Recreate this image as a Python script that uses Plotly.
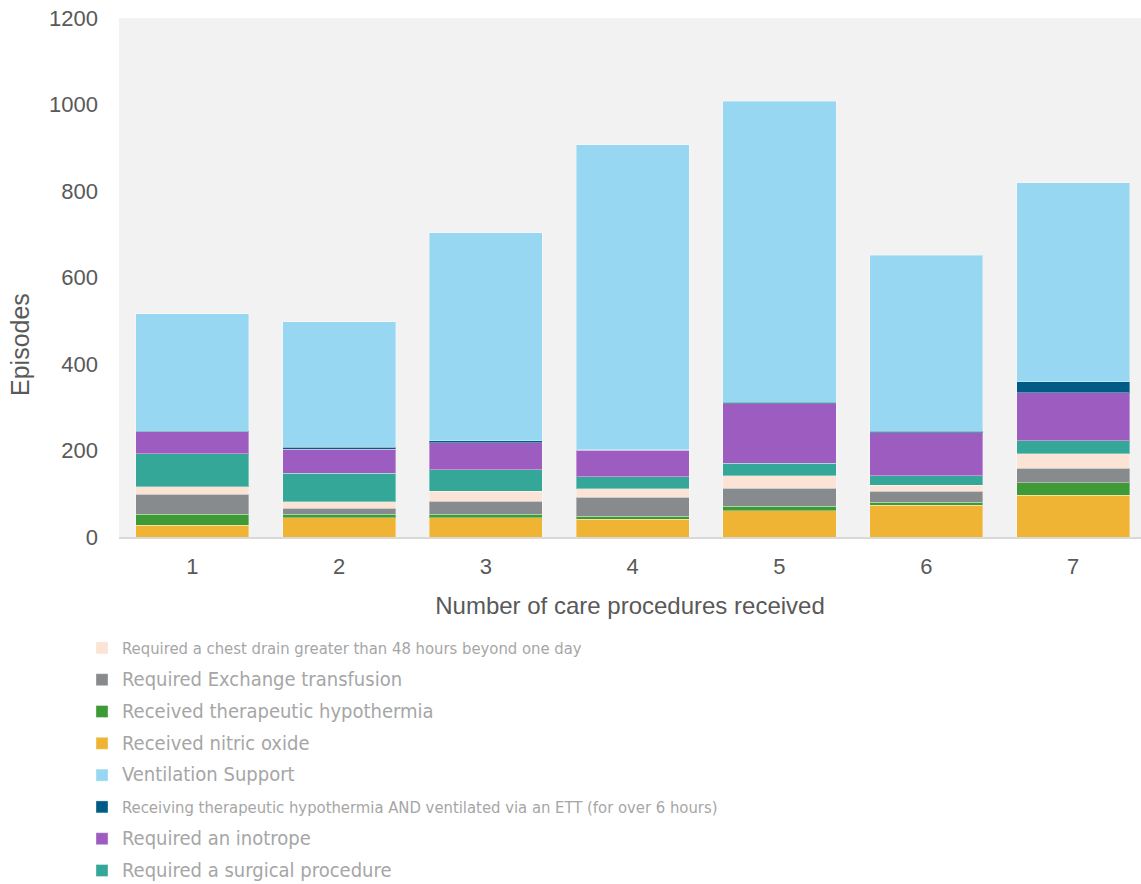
import plotly.graph_objects as go

categories = ["1", "2", "3", "4", "5", "6", "7"]

nitric_oxide = [27, 44, 44, 41, 61, 74, 96]
hypothermia = [26, 9, 9, 7, 10, 6, 29]
exchange = [46, 14, 30, 44, 42, 26, 34]
chest_drain = [17, 14, 23, 19, 29, 14, 34]
surgical = [77, 66, 49, 28, 28, 22, 30]
inotrope = [50, 56, 63, 62, 138, 99, 111]
hypo_vent = [1, 5, 4, 1, 4, 4, 25]
ventilation = [272, 290, 482, 705, 696, 406, 460]

# stack order bottom -> top: (name, values, colour, legend rank, legend text size)
series = [
    ("Received nitric oxide", nitric_oxide, "#F0B434", 4, 20),
    ("Received therapeutic hypothermia", hypothermia, "#3D9A35", 3, 20),
    ("Required Exchange transfusion", exchange, "#888B8D", 2, 20),
    ("Required a chest drain greater than 48 hours beyond one day", chest_drain, "#FBE3D6", 1, 16.5),
    ("Required a surgical procedure", surgical, "#34A798", 8, 20),
    ("Required an inotrope", inotrope, "#9D5CC0", 7, 20),
    ("Receiving therapeutic hypothermia AND ventilated via an ETT (for over 6 hours)", hypo_vent, "#005C84", 6, 16.5),
    ("Ventilation Support", ventilation, "#98D7F1", 5, 20),
]

fig = go.Figure()
for name, vals, color, rank, fs in series:
    fig.add_trace(go.Bar(
        x=[int(c) for c in categories], y=vals,
        name="<span style='font-size:%spx'>%s</span>" % (fs, name),
        marker=dict(color=color, line=dict(color="rgba(255,255,255,0.35)", width=1)),
        legendrank=rank, legendgroup="g%d" % rank,
    ))

W, H = 1141, 884
L, R, T, B = 119, 0, 18, 347
plot_w = W - L - R
plot_h = H - T - B

fig.update_layout(
    width=W, height=H,
    barmode="stack", bargap=0.23,
    paper_bgcolor="white", plot_bgcolor="#F2F2F2",
    margin=dict(l=L, r=R, t=T, b=B, autoexpand=False),
    font=dict(family="Liberation Sans, Arial, sans-serif", size=22, color="#595959"),
    xaxis=dict(
        range=[0.5, 7.463], tickvals=[1, 2, 3, 4, 5, 6, 7], ticktext=categories,
        showgrid=False, zeroline=False, showline=True, linecolor="#D9D9D9", linewidth=2,
        ticks="", ticklabelstandoff=9, tickfont=dict(size=22),
        title=dict(text="Number of care procedures received", standoff=19,
                   font=dict(size=24, color="#595959")),
    ),
    yaxis=dict(
        range=[0, 1200], dtick=200, showgrid=False, zeroline=False, showline=False,
        ticks="", ticklabelstandoff=20, tickfont=dict(size=22),
    ),
    annotations=[dict(
        text="Episodes", textangle=-90, showarrow=False,
        xref="paper", yref="paper",
        x=(20 - L) / plot_w, y=(T + plot_h - 345) / plot_h,
        xanchor="center", yanchor="middle",
        font=dict(size=25, color="#595959"),
    )],
    legend=dict(
        orientation="v", x=(82 - L) / plot_w, xanchor="left",
        yref="container", y=1 - 631 / H, yanchor="top",
        traceorder="grouped", tracegroupgap=8, itemwidth=30,
        font=dict(family="Liberation Sans Narrow, DejaVu Sans Condensed, Arial Narrow, sans-serif",
                  size=16, color="#A6A6A6"),
        bgcolor="rgba(0,0,0,0)",
    ),
    showlegend=True,
)

fig.write_html("out.html")
